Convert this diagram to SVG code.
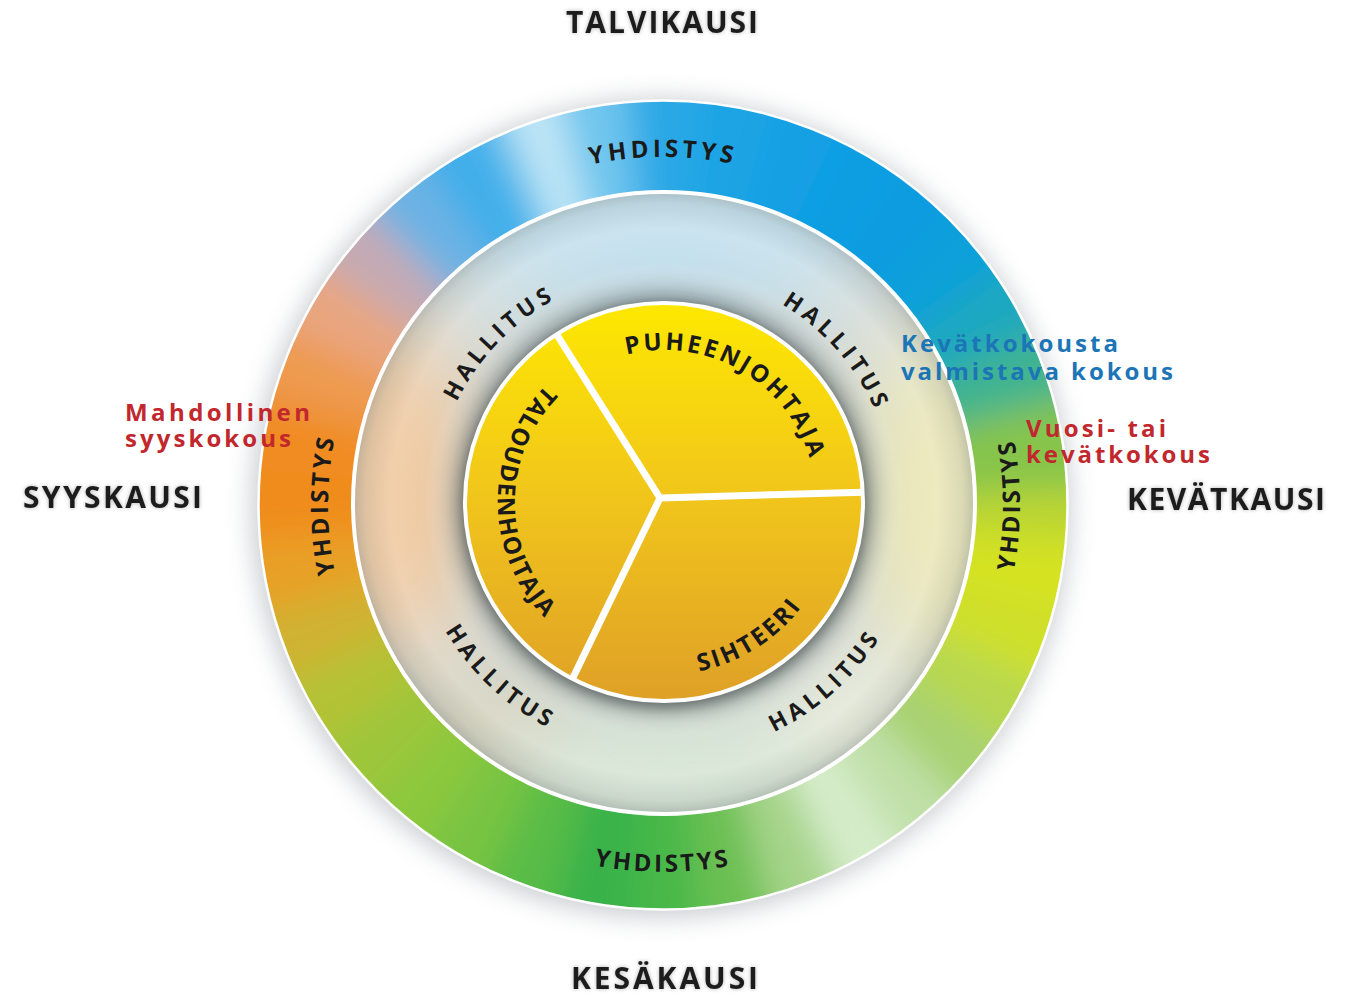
<svg xmlns="http://www.w3.org/2000/svg" width="1354" height="996" viewBox="0 0 1354 996">
<defs>
<style>
.t{font-family:"Open Sans","Liberation Sans",sans-serif;font-weight:700}
.title{font-size:30px;fill:#1e1e1e}
.note{font-size:24px}
.red{fill:#c1272d}
.blue{fill:#1b75b6}
.ring{font-size:24px;fill:#1a1a1a}
.hal{font-size:23px;fill:#1a1a1a;letter-spacing:4.5px}
.inn{font-size:24px;fill:#1a1a1a}
.seg{fill:none;stroke-width:210;stroke-dasharray:80 2200}
</style>
<filter id="b10" x="-25%" y="-25%" width="150%" height="150%"><feGaussianBlur stdDeviation="17"/></filter>
<filter id="b40" x="-50%" y="-50%" width="200%" height="200%"><feGaussianBlur stdDeviation="40"/></filter>
<filter id="halo" x="-20%" y="-20%" width="140%" height="140%"><feGaussianBlur stdDeviation="12"/></filter>
<filter id="sh6" x="-20%" y="-20%" width="140%" height="140%"><feGaussianBlur stdDeviation="6"/></filter>
<filter id="tsh" x="-10%" y="-30%" width="120%" height="160%">
<feGaussianBlur in="SourceAlpha" stdDeviation="2"/>
<feComponentTransfer><feFuncA type="linear" slope="0.3"/></feComponentTransfer>
<feMerge><feMergeNode/><feMergeNode in="SourceGraphic"/></feMerge>
</filter>
<clipPath id="outerClip"><path clip-rule="evenodd" d="M258,505 A405,405 0 1,0 1068,505 A405,405 0 1,0 258,505 Z M358,505 A305,305 0 1,0 968,505 A305,305 0 1,0 358,505 Z"/></clipPath>
<clipPath id="midClip"><circle cx="664" cy="503" r="311"/></clipPath>
<clipPath id="discClip"><circle cx="664" cy="502" r="199"/></clipPath>
<radialGradient id="midShade" gradientUnits="userSpaceOnUse" cx="664" cy="502" r="311">
<stop offset="0.62" stop-color="#505a5c" stop-opacity="0.6"/>
<stop offset="0.68" stop-color="#6c7676" stop-opacity="0.3"/>
<stop offset="0.77" stop-color="#ffffff" stop-opacity="0"/>
<stop offset="0.88" stop-color="#ffffff" stop-opacity="0.12"/>
<stop offset="0.96" stop-color="#707a7a" stop-opacity="0.12"/>
<stop offset="1" stop-color="#606a6a" stop-opacity="0.3"/>
</radialGradient>
<linearGradient id="yel" gradientUnits="userSpaceOnUse" x1="0" y1="303" x2="0" y2="701">
<stop offset="0" stop-color="#fde800"/>
<stop offset="0.45" stop-color="#f2c81a"/>
<stop offset="1" stop-color="#dfa027"/>
</linearGradient>
<path id="pTop" d="M361.6,331 A348,348 0 0 1 964.4,331"/>
<path id="pBot" d="M345.2,688.5 A367,367 0 0 0 980.8,688.5"/>
<path id="pLeft" d="M495.5,795.1 A335,335 0 0 1 495.5,214.9"/>
<path id="pRight" d="M841.5,814.2 A357,357 0 0 0 841.5,195.8"/>
<path id="hTL" d="M443,565.5 A230,230 0 0 1 719.7,278.8"/>
<path id="hTR" d="M620.1,276.2 A230,230 0 0 1 881.5,576.9"/>
<path id="hBL" d="M416.6,444.9 A254,254 0 0 0 738.3,744.9"/>
<path id="hBR" d="M585.2,744.6 A255,255 0 0 0 913.4,449"/>
<path id="iPu" d="M556.5,394.5 A152,152 0 0 1 810.8,541.3"/>
<path id="iTa" d="M621,341.6 A166,166 0 0 0 621,662.4"/>
<path id="iSi" d="M584.1,655.4 A173,173 0 0 0 836.8,494.5"/>
</defs>

<rect width="1354" height="996" fill="#ffffff"/>

<g id="outer-ring">
<circle cx="661" cy="508" r="410" fill="#8e969e" opacity="0.45" filter="url(#halo)"/>
<g clip-path="url(#outerClip)">
<g filter="url(#b10)">
<circle class="seg" cx="663" cy="505" r="358" stroke="#bcd632" transform="rotate(-5 663 505)"/>
<circle class="seg" cx="663" cy="505" r="358" stroke="#d4e222" transform="rotate(5 663 505)"/>
<circle class="seg" cx="663" cy="505" r="358" stroke="#cfe02a" transform="rotate(15 663 505)"/>
<circle class="seg" cx="663" cy="505" r="358" stroke="#b8d850" transform="rotate(25 663 505)"/>
<circle class="seg" cx="663" cy="505" r="358" stroke="#a8d272" transform="rotate(35 663 505)"/>
<circle class="seg" cx="663" cy="505" r="358" stroke="#c0e0a8" transform="rotate(45 663 505)"/>
<circle class="seg" cx="663" cy="505" r="358" stroke="#d6ecca" transform="rotate(55 663 505)"/>
<circle class="seg" cx="663" cy="505" r="358" stroke="#a6d48a" transform="rotate(65 663 505)"/>
<circle class="seg" cx="663" cy="505" r="358" stroke="#6cc052" transform="rotate(75 663 505)"/>
<circle class="seg" cx="663" cy="505" r="358" stroke="#46b84a" transform="rotate(85 663 505)"/>
<circle class="seg" cx="663" cy="505" r="358" stroke="#38b24a" transform="rotate(95 663 505)"/>
<circle class="seg" cx="663" cy="505" r="358" stroke="#58bc46" transform="rotate(105 663 505)"/>
<circle class="seg" cx="663" cy="505" r="358" stroke="#78c442" transform="rotate(115 663 505)"/>
<circle class="seg" cx="663" cy="505" r="358" stroke="#8cc83e" transform="rotate(125 663 505)"/>
<circle class="seg" cx="663" cy="505" r="358" stroke="#9ec63a" transform="rotate(135 663 505)"/>
<circle class="seg" cx="663" cy="505" r="358" stroke="#b4c236" transform="rotate(145 663 505)"/>
<circle class="seg" cx="663" cy="505" r="358" stroke="#d0b230" transform="rotate(155 663 505)"/>
<circle class="seg" cx="663" cy="505" r="358" stroke="#e8a026" transform="rotate(165 663 505)"/>
<circle class="seg" cx="663" cy="505" r="358" stroke="#f08c1e" transform="rotate(175 663 505)"/>
<circle class="seg" cx="663" cy="505" r="358" stroke="#f08c24" transform="rotate(185 663 505)"/>
<circle class="seg" cx="663" cy="505" r="358" stroke="#ee9a50" transform="rotate(195 663 505)"/>
<circle class="seg" cx="663" cy="505" r="358" stroke="#e8a680" transform="rotate(205 663 505)"/>
<circle class="seg" cx="663" cy="505" r="358" stroke="#c4aab4" transform="rotate(215 663 505)"/>
<circle class="seg" cx="663" cy="505" r="358" stroke="#6cb2e4" transform="rotate(225 663 505)"/>
<circle class="seg" cx="663" cy="505" r="358" stroke="#40aeea" transform="rotate(235 663 505)"/>
<circle class="seg" cx="663" cy="505" r="358" stroke="#6cc4ee" transform="rotate(245 663 505)"/>
<circle class="seg" cx="663" cy="505" r="358" stroke="#c0e6f6" transform="rotate(250 663 505)" style="stroke-dasharray:35 2200"/>
<circle class="seg" cx="663" cy="505" r="358" stroke="#70c6ee" transform="rotate(257 663 505)"/>
<circle class="seg" cx="663" cy="505" r="358" stroke="#2aa8e6" transform="rotate(265 663 505)"/>
<circle class="seg" cx="663" cy="505" r="358" stroke="#1ca4e4" transform="rotate(275 663 505)"/>
<circle class="seg" cx="663" cy="505" r="358" stroke="#12a0e4" transform="rotate(285 663 505)"/>
<circle class="seg" cx="663" cy="505" r="358" stroke="#0e9ee2" transform="rotate(295 663 505)"/>
<circle class="seg" cx="663" cy="505" r="358" stroke="#0c9ce0" transform="rotate(305 663 505)"/>
<circle class="seg" cx="663" cy="505" r="358" stroke="#0ea0da" transform="rotate(315 663 505)"/>
<circle class="seg" cx="663" cy="505" r="358" stroke="#1aa8c0" transform="rotate(325 663 505)"/>
<circle class="seg" cx="663" cy="505" r="358" stroke="#40b490" transform="rotate(335 663 505)"/>
<circle class="seg" cx="663" cy="505" r="358" stroke="#86c44c" transform="rotate(345 663 505)"/>
</g>
</g>
<circle cx="663" cy="505" r="404.5" fill="none" stroke="#ffffff" stroke-width="2.5"/>
</g>

<g id="middle-ring">
<g clip-path="url(#midClip)">
<rect x="340" y="180" width="650" height="650" fill="#d6dcd8"/>
<g filter="url(#b40)">
<ellipse cx="664" cy="235" rx="220" ry="80" fill="#c2e0ee"/>
<ellipse cx="395" cy="490" rx="70" ry="170" fill="#f2c89c"/>
<ellipse cx="935" cy="500" rx="70" ry="170" fill="#ece8b6"/>
<ellipse cx="680" cy="775" rx="210" ry="60" fill="#d6e6d4"/>
<ellipse cx="470" cy="720" rx="80" ry="60" fill="#d6d2bc"/>
<ellipse cx="860" cy="720" rx="80" ry="60" fill="#e6ead8"/>
</g>
<circle cx="664" cy="502" r="312" fill="url(#midShade)"/>
</g>
<circle cx="664" cy="503" r="311" fill="none" stroke="#ffffff" stroke-width="4"/>
</g>

<g id="inner-disc">
<circle cx="664" cy="505" r="203" fill="#3c4444" opacity="0.5" filter="url(#sh6)"/>
<circle cx="664" cy="502" r="199" fill="url(#yel)"/>
<g clip-path="url(#discClip)" stroke="#ffffff" stroke-width="7" stroke-linecap="round">
<line x1="660" y1="498" x2="552" y2="327"/>
<line x1="660" y1="498" x2="872" y2="492"/>
<line x1="660" y1="498" x2="568" y2="688"/>
</g>
<circle cx="664" cy="502" r="199" fill="none" stroke="#ffffff" stroke-width="4"/>
</g>

<g id="ring-labels" class="t">
<text class="ring" letter-spacing="4"><textPath href="#pTop" startOffset="50%" text-anchor="middle">YHDISTYS</textPath></text>
<text class="ring" letter-spacing="3"><textPath href="#pBot" startOffset="50%" text-anchor="middle">YHDISTYS</textPath></text>
<text class="ring" letter-spacing="3"><textPath href="#pLeft" startOffset="50%" text-anchor="middle">YHDISTYS</textPath></text>
<text class="ring" letter-spacing="2.5"><textPath href="#pRight" startOffset="50%" text-anchor="middle">YHDISTYS</textPath></text>
<text class="hal"><textPath href="#hTL" startOffset="50%" text-anchor="middle">HALLITUS</textPath></text>
<text class="hal"><textPath href="#hTR" startOffset="50%" text-anchor="middle">HALLITUS</textPath></text>
<text class="hal"><textPath href="#hBL" startOffset="50%" text-anchor="middle">HALLITUS</textPath></text>
<text class="hal"><textPath href="#hBR" startOffset="50%" text-anchor="middle">HALLITUS</textPath></text>
<text class="inn" letter-spacing="2.8"><textPath href="#iPu" startOffset="50%" text-anchor="middle">PUHEENJOHTAJA</textPath></text>
<text class="inn" letter-spacing="1.8"><textPath href="#iTa" startOffset="50%" text-anchor="middle">TALOUDENHOITAJA</textPath></text>
<text class="inn" letter-spacing="2.6"><textPath href="#iSi" startOffset="50%" text-anchor="middle">SIHTEERI</textPath></text>
</g>

<g id="seasons" class="t" filter="url(#tsh)">
<text class="title" x="566" y="33" textLength="192" lengthAdjust="spacing">TALVIKAUSI</text>
<text class="title" x="571" y="989" textLength="187" lengthAdjust="spacing">KESÄKAUSI</text>
<text class="title" x="23" y="508" textLength="179" lengthAdjust="spacing">SYYSKAUSI</text>
<text class="title" x="1127" y="510" textLength="198" lengthAdjust="spacing">KEVÄTKAUSI</text>
</g>

<g id="notes" class="t note">
<text class="red" x="125" y="421" textLength="185" lengthAdjust="spacing">Mahdollinen</text>
<text class="red" x="125" y="447" textLength="166" lengthAdjust="spacing">syyskokous</text>
<text class="blue" x="901" y="352" textLength="217" lengthAdjust="spacing">Kevätkokousta</text>
<text class="blue" x="901" y="380" textLength="272" lengthAdjust="spacing">valmistava kokous</text>
<text class="red" x="1026" y="437" textLength="140" lengthAdjust="spacing">Vuosi- tai</text>
<text class="red" x="1026" y="463" textLength="184" lengthAdjust="spacing">kevätkokous</text>
</g>
</svg>
